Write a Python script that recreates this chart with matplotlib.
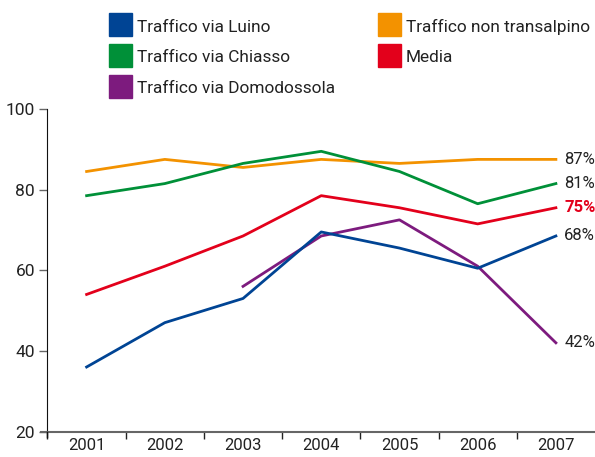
import numpy as np
import matplotlib.pyplot as plt
from matplotlib.patches import Rectangle
from matplotlib.lines import Line2D

anni = ["2001", "2002", "2003", "2004", "2005", "2006", "2007"]
luino = [36, 47, 53, 69.5, 65.5, 60.5, 68.5]
chiasso = [78.5, 81.5, 86.5, 89.5, 84.5, 76.5, 81.5]
domodossola = [np.nan, np.nan, 56, 68.5, 72.5, 61, 42]
non_transalpino = [84.5, 87.5, 85.5, 87.5, 86.5, 87.5, 87.5]
media = [54, 61, 68.5, 78.5, 75.5, 71.5, 75.5]

blu = "#004494"
verde = "#009038"
viola = "#7d1b7e"
arancio = "#f39200"
rosso = "#e3001b"

plt.rcParams['font.family'] = ['Roboto', 'DejaVu Sans']

fig = plt.figure(figsize=(5.95, 4.57), dpi=100)
ax = fig.add_axes([47.5/595, 25.5/457, 1 - 47.5/595, 322.5/457])

x = np.arange(len(anni))
lw = 2.0
ax.plot(x, non_transalpino, color=arancio, lw=lw)
ax.plot(x, chiasso, color=verde, lw=lw)
ax.plot(x, media, color=rosso, lw=lw)
ax.plot(x, domodossola, color=viola, lw=lw)
ax.plot(x, luino, color=blu, lw=lw)

ax.set_xlim(-0.5, 6.5)
ax.set_ylim(20, 100)
ax.set_yticks([20, 40, 60, 80, 100])
ax.set_xticks(np.arange(-0.5, 6.5, 1))
ax.set_xticklabels([])
ax.set_xticks(x, minor=True)
ax.set_xticklabels(anni, minor=True)
ax.tick_params(axis='x', which='major', direction='out', length=5, width=1, color='#222222')
ax.tick_params(axis='x', which='minor', length=0, pad=5, labelsize=12, colors='#222222')
ax.tick_params(axis='y', direction='out', length=6, width=1, color='#666666', labelsize=12.5, labelcolor='#222222', pad=3)

for s in ['top', 'right']:
    ax.spines[s].set_visible(False)
ax.spines['left'].set_color('#111111')
ax.spines['bottom'].set_color('#666666')
ax.spines['bottom'].set_linewidth(1.5)

# prolungamenti degli assi
fig.add_artist(Line2D([41/595, 47.5/595], [25.5/457, 25.5/457], color='#666666', lw=1.5))
fig.add_artist(Line2D([47.5/595, 47.5/595], [20/457, 25.5/457], color='#111111', lw=1))

# etichette finali
fin = [(non_transalpino[-1], "87%", "#222222", 'normal'),
       (chiasso[-1], "81%", "#222222", 'normal'),
       (media[-1], "75%", rosso, 'bold'),
       (luino[-1], "68%", "#222222", 'normal'),
       (domodossola[-1], "42%", "#222222", 'normal')]
for val, lab, col, w in fin:
    ax.annotate(lab, (6, val), xytext=(6, 0), textcoords='offset points',
                va='center', ha='left', fontsize=12, color=col, fontweight=w,
                annotation_clip=False)

# legenda
voci = [("Traffico via Luino", blu, 109, 24.5),
        ("Traffico via Chiasso", verde, 109, 55.5),
        ("Traffico via Domodossola", viola, 109, 86),
        ("Traffico non transalpino", arancio, 378, 24.5),
        ("Media", rosso, 378, 55.5)]
for testo, col, px, py in voci:
    fig.add_artist(Rectangle((px/595, (457 - py - 11.5)/457), 23/595, 23/457,
                             color=col, transform=fig.transFigure))
    fig.text((px + 28)/595, (457 - py - 2.5)/457, testo, fontsize=12.4, va='center',
             ha='left', color='#222222')

fig.savefig("out.png", dpi=100)
